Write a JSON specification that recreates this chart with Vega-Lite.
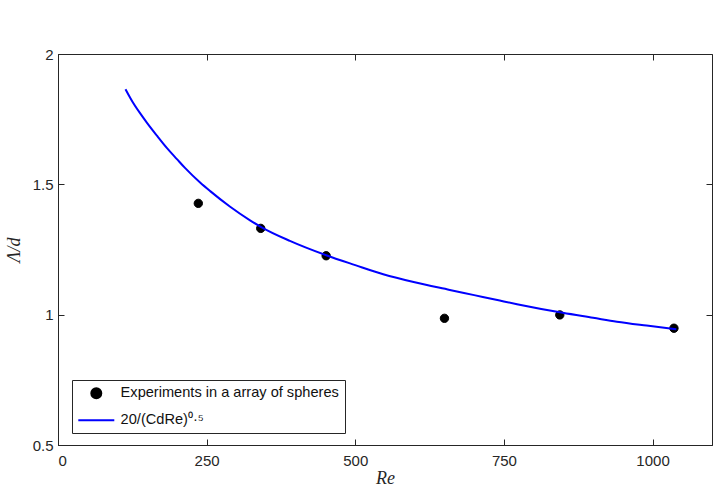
{
  "$schema": "https://vega.github.io/schema/vega-lite/v6.json",
  "width": 654,
  "height": 391,
  "autosize": {"type": "none"},
  "padding": {"left": 58, "top": 54, "right": 8, "bottom": 43},
  "background": "white",
  "config": {
    "view": {"stroke": "#262626", "strokeWidth": 1},
    "axis": {
      "domainColor": "#262626",
      "tickColor": "#262626",
      "labelColor": "#262626",
      "titleColor": "#262626",
      "labelFont": "Liberation Sans",
      "labelFontSize": 15,
      "titleFont": "Liberation Serif",
      "titleFontStyle": "italic",
      "titleFontWeight": "normal",
      "titleFontSize": 18,
      "grid": false,
      "tickSize": -6,
      "domainWidth": 1,
      "tickWidth": 1
    },
    "legend": {
      "orient": "none",
      "legendX": 14,
      "legendY": 326,
      "fillColor": "white",
      "strokeColor": "#262626",
      "padding": 6,
      "labelFont": "Liberation Sans",
      "labelFontSize": 14.6,
      "labelColor": "#111111",
      "labelLimit": 400,
      "symbolOffset": 11,
      "labelOffset": 17,
      "rowPadding": 9,
      "symbolSize": 100,
      "symbolStrokeWidth": 2
    }
  },
  "resolve": {"axis": {"x": "independent", "y": "independent"}},
  "datasets": {
    "exp": [
      {"Re": 236, "L": 1.427, "series": "Experiments in a array of spheres"},
      {"Re": 341, "L": 1.331, "series": "Experiments in a array of spheres"},
      {"Re": 451, "L": 1.226, "series": "Experiments in a array of spheres"},
      {"Re": 650, "L": 0.986, "series": "Experiments in a array of spheres"},
      {"Re": 844, "L": 0.999, "series": "Experiments in a array of spheres"},
      {"Re": 1036, "L": 0.948, "series": "Experiments in a array of spheres"}
    ],
    "curve": [
      {"Re": 113.5, "L": 1.865},
      {"Re": 125, "L": 1.818},
      {"Re": 138, "L": 1.773},
      {"Re": 150, "L": 1.735},
      {"Re": 166, "L": 1.688},
      {"Re": 183, "L": 1.64},
      {"Re": 200, "L": 1.597},
      {"Re": 214, "L": 1.562},
      {"Re": 239, "L": 1.507},
      {"Re": 256, "L": 1.474},
      {"Re": 289, "L": 1.415},
      {"Re": 323, "L": 1.362},
      {"Re": 341, "L": 1.337},
      {"Re": 390, "L": 1.283},
      {"Re": 451, "L": 1.228},
      {"Re": 500, "L": 1.19},
      {"Re": 547, "L": 1.155},
      {"Re": 600, "L": 1.124},
      {"Re": 659, "L": 1.095},
      {"Re": 700, "L": 1.075},
      {"Re": 743, "L": 1.054},
      {"Re": 772, "L": 1.04},
      {"Re": 849, "L": 1.007},
      {"Re": 900, "L": 0.988},
      {"Re": 940, "L": 0.973},
      {"Re": 990, "L": 0.958},
      {"Re": 1040, "L": 0.944}
    ]
  },
  "layer": [
    {
      "mark": {"type": "rule", "color": "#555555", "strokeDash": [1.5, 2], "strokeWidth": 1},
      "encoding": {"y": {"datum": 1, "type": "quantitative", "axis": null}}
    },
    {
      "data": {"name": "exp"},
      "mark": {"type": "point", "filled": false, "fill": "#000000", "fillOpacity": 1, "opacity": 1, "size": 70, "strokeWidth": 1},
      "encoding": {
        "x": {
          "field": "Re", "type": "quantitative",
          "scale": {"domain": [0, 1100], "nice": false, "zero": false},
          "axis": {"orient": "bottom", "values": [0, 250, 500, 750, 1000], "labelExpr": "'' + datum.value", "title": "Re", "labelPadding": 14, "titlePadding": 1, "titleBaseline": "top"}
        },
        "y": {
          "field": "L", "type": "quantitative",
          "scale": {"domain": [0.5, 2], "nice": false, "zero": false},
          "axis": {"orient": "left", "values": [0.5, 1, 1.5, 2], "labelExpr": "'' + datum.value", "title": "Λ/d", "labelPadding": 11, "titlePadding": 9}
        },
        "color": {
          "field": "series", "type": "nominal",
          "scale": {"domain": ["Experiments in a array of spheres", "20/(CdRe)⁰·⁵"], "range": ["#000000", "#0000ff"]},
          "legend": {"title": null}
        },
        "shape": {
          "field": "series", "type": "nominal",
          "scale": {"domain": ["Experiments in a array of spheres", "20/(CdRe)⁰·⁵"], "range": ["circle", "M-3.6,0H3.6"]},
          "legend": {"title": null}
        }
      }
    },
    {
      "data": {"name": "curve"},
      "mark": {"type": "line", "color": "#0000ff", "strokeWidth": 2, "interpolate": "monotone"},
      "encoding": {
        "x": {"field": "Re", "type": "quantitative", "axis": null},
        "y": {"field": "L", "type": "quantitative", "axis": null}
      }
    },
    {
      "data": {"name": "exp"},
      "mark": {"type": "point", "opacity": 0},
      "encoding": {
        "x": {"field": "Re", "type": "quantitative", "axis": {"orient": "top", "values": [0, 250, 500, 750, 1000], "labels": false, "title": null, "domain": false}},
        "y": {"field": "L", "type": "quantitative", "axis": {"orient": "right", "values": [0.5, 1, 1.5, 2], "labels": false, "title": null, "domain": false}}
      }
    }
  ]
}
